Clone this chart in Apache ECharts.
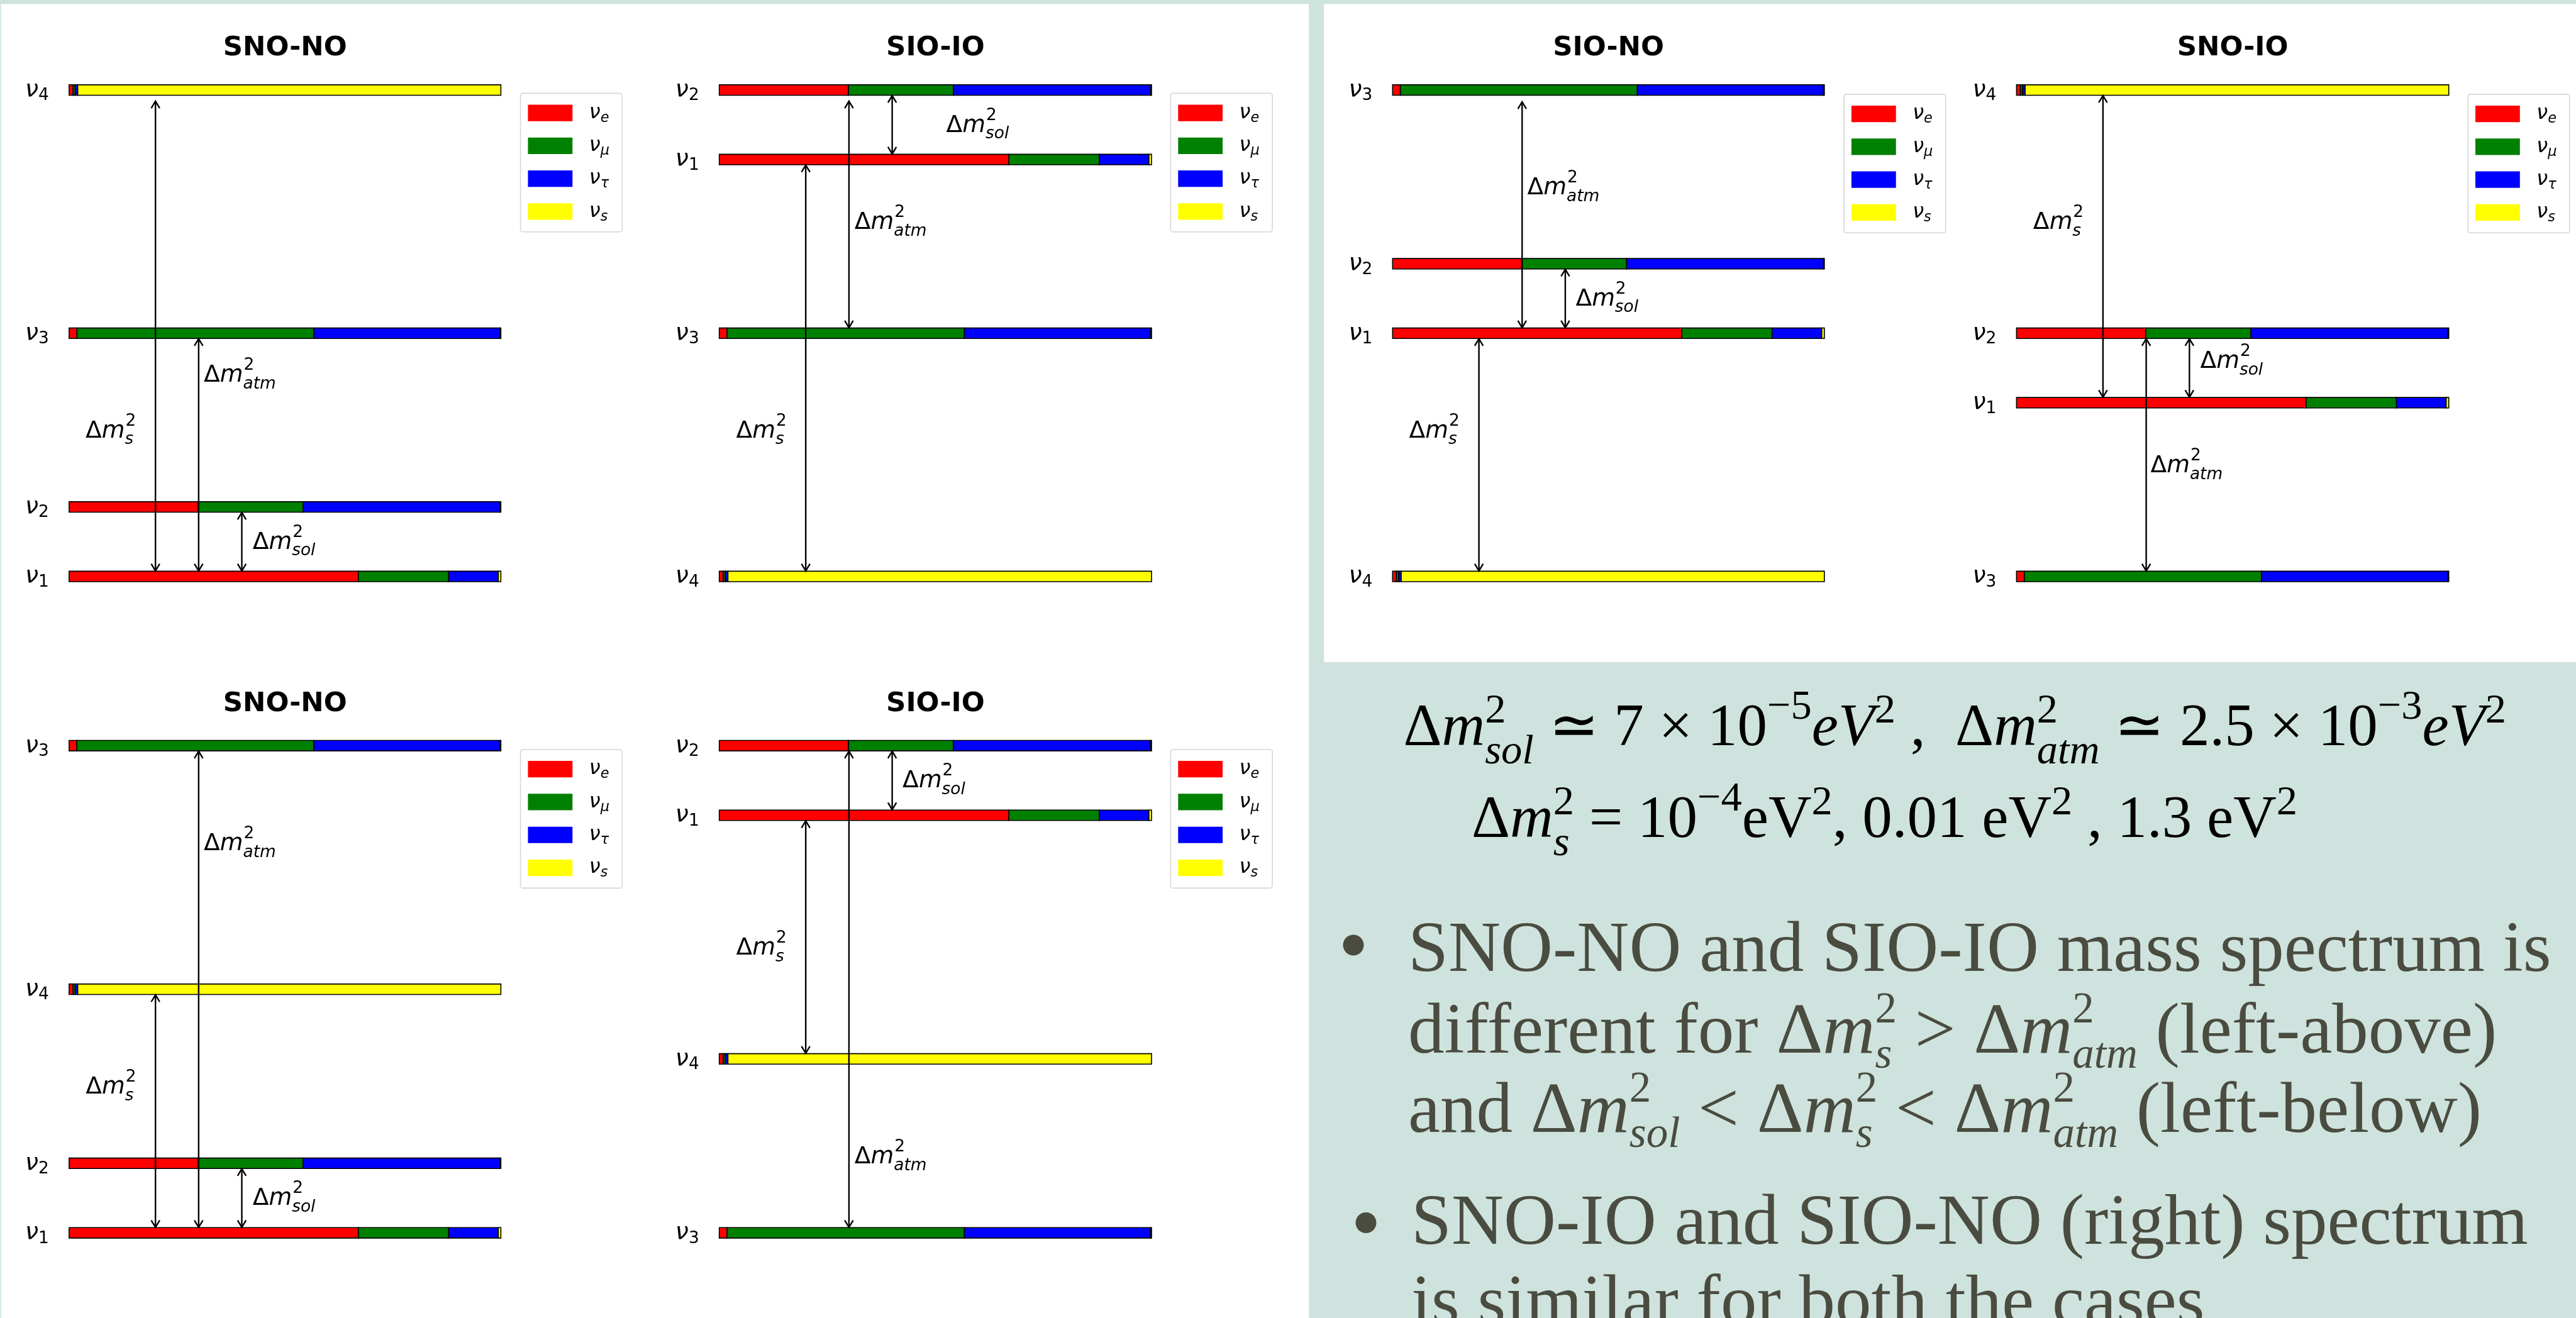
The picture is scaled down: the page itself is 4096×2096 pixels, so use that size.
<!DOCTYPE html>
<html><head><meta charset="utf-8">
<script src="https://cdn.jsdelivr.net/npm/echarts@6.0.0/dist/echarts.min.js"></script>
<style>html,body{margin:0;padding:0;background:#cfe3de;} #c{width:4096px;height:2096px;}</style>
</head><body><div id="c"></div>
<script>
// ---------------- data ----------------
const flavourNames = ['νe', 'νμ', 'ντ', 'νs'];
const flavourColors = ['#ff0000', '#008000', '#0000ff', '#ffff00'];
const massStates = ['ν1', 'ν2', 'ν3', 'ν4'];
// flavour content |U_αi|^2 of each mass state, order (e, μ, τ, s)
const mixNu1 = [0.670, 0.209, 0.115, 0.006];
const mixNu2 = [0.299, 0.243, 0.456, 0.002];
const mixNu3 = [0.018, 0.549, 0.431, 0.002];
const mixNu4 = [0.009, 0.005, 0.006, 0.980];
const panelTitles = ['SNO-NO', 'SIO-IO', 'SIO-NO', 'SNO-IO', 'SNO-NO', 'SIO-IO'];
// schematic level of ν1, ν2, ν3, ν4 in each panel
const levelsP1 = [0, 1, 3.5, 7];
const levelsP2 = [6, 7, 3.5, 0];
const levelsP3 = [3.5, 4.5, 7, 0];
const levelsP4 = [2.5, 3.5, 0, 7];
const levelsP5 = [0, 1, 7, 3.5];
const levelsP6 = [6, 7, 0, 2.5];
// double arrows: [x, lower end, upper end]
const arrowsP1 = [[0.2, 0.08, 6.84], [0.3, 0.08, 3.42], [0.4, 0.08, 0.92]];
const arrowsP2 = [[0.2, 0.08, 5.92], [0.3, 3.58, 6.84], [0.4, 6.08, 6.92]];
const arrowsP3 = [[0.2, 0.08, 3.42], [0.3, 3.58, 6.83], [0.4, 3.58, 4.42]];
const arrowsP4 = [[0.2, 2.58, 6.92], [0.3, 0.08, 3.42], [0.4, 2.58, 3.42]];
const arrowsP5 = [[0.2, 0.08, 3.42], [0.3, 0.08, 6.92], [0.4, 0.08, 0.92]];
const arrowsP6 = [[0.2, 2.58, 5.92], [0.3, 0.08, 6.92], [0.4, 6.08, 6.92]];
// Δm² annotations: [x, baseline y, subscript]
const labelsP1 = [[0.038, 2.0, 's'], [0.312, 2.8, 'atm'], [0.425, 0.4, 'sol']];
const labelsP2 = [[0.039, 2.0, 's'], [0.313, 5.0, 'atm'], [0.525, 6.4, 'sol']];
const labelsP3 = [[0.038, 2.0, 's'], [0.312, 5.5, 'atm'], [0.424, 3.9, 'sol']];
const labelsP4 = [[0.0385, 5.0, 's'], [0.31, 1.5, 'atm'], [0.425, 3.0, 'sol']];
const labelsP5 = [[0.0385, 2.0, 's'], [0.312, 5.5, 'atm'], [0.425, 0.4, 'sol']];
const labelsP6 = [[0.039, 4.0, 's'], [0.313, 1.0, 'atm'], [0.424, 6.4, 'sol']];

// ---------------- layout / style ----------------
const GRIDS = [
  {left: 109.9, top: 143.2, width: 686.5, height: 773.5},
  {left: 1143.7, top: 143.2, width: 687.3, height: 773.5},
  {left: 2214.3, top: 143.2, width: 686.5, height: 773.5},
  {left: 3206.4, top: 143.2, width: 687.3, height: 773.5},
  {left: 109.9, top: 1185.8, width: 686.5, height: 774.8},
  {left: 1143.7, top: 1185.8, width: 687.3, height: 774.8}
];
const BAR_H = 16.6, HW = 6.7, HL = 11.2;
const SANS = '"DejaVu Sans"';
const SERIF = '"Liberation Serif"';
const TEXT_COL = '#4a4c40';

const panelLevels = [levelsP1, levelsP2, levelsP3, levelsP4, levelsP5, levelsP6];
const panelArrows = [arrowsP1, arrowsP2, arrowsP3, arrowsP4, arrowsP5, arrowsP6];
const panelLabels = [labelsP1, labelsP2, labelsP3, labelsP4, labelsP5, labelsP6];
const mixes = [mixNu1, mixNu2, mixNu3, mixNu4];

function renderBar(params, api) {
  const y = api.value(0), a = api.value(1), b = api.value(2);
  const p0 = api.coord([a, y]), p1 = api.coord([b, y]);
  return {type: 'rect', shape: {x: p0[0], y: p0[1] - BAR_H / 2, width: p1[0] - p0[0], height: BAR_H},
    style: {fill: api.visual('color'), stroke: '#000', lineWidth: 1.6}};
}
function renderArrow(params, api) {
  const x = api.value(0);
  const lo = api.coord([x, api.value(1)]), hi = api.coord([x, api.value(2)]);
  const st = {stroke: '#000', lineWidth: 2.4, fill: 'none'};
  return {type: 'group', children: [
    {type: 'line', shape: {x1: lo[0], y1: lo[1], x2: hi[0], y2: hi[1]}, style: st},
    {type: 'polyline', shape: {points: [[hi[0] - HW, hi[1] + HL], [hi[0], hi[1]], [hi[0] + HW, hi[1] + HL]]}, style: st},
    {type: 'polyline', shape: {points: [[lo[0] - HW, lo[1] - HL], [lo[0], lo[1]], [lo[0] + HW, lo[1] - HL]]}, style: st}
  ]};
}

const series = [];
panelLevels.forEach((lev, g) => {
  flavourNames.forEach((fname, f) => {
    const data = mixes.map((mix, i) => {
      const start = mix.slice(0, f).reduce((s, v) => s + v, 0);
      return [lev[i], start, start + mix[f]];
    });
    series.push({type: 'custom', name: fname, xAxisIndex: g, yAxisIndex: g, itemStyle: {color: flavourColors[f]},
      data, renderItem: renderBar, encode: {x: [1, 2], y: 0}, z: 2, silent: true});
  });
  series.push({type: 'custom', name: 'arrows' + g, xAxisIndex: g, yAxisIndex: g, data: panelArrows[g],
    renderItem: renderArrow, encode: {x: 0, y: [1, 2]}, z: 5, silent: true});
});

const legendTop = [148.4, 148.4, 149.9, 149.9, 1192, 1192];
const legends = GRIDS.map((gr, g) => ({
  orient: 'vertical', left: gr.left + 717.7, top: legendTop[g],
  itemWidth: 70.8, itemHeight: 26.2, itemGap: 13.6, icon: 'rect',
  padding: [11.8, 18, 13, 11.9], backgroundColor: '#fff', borderColor: '#d6d6d6', borderWidth: 1.6, borderRadius: 4,
  selectedMode: false, data: flavourNames, itemStyle: {borderWidth: 0},
  formatter: n => '{sp| }{n|ν}{s|' + n.slice(1) + '}',
  textStyle: {width: 56, lineHeight: 26, color: '#000', rich: {
    sp: {width: 21.5, lineHeight: 26, fontSize: 10},
    n: {fontFamily: SANS, fontStyle: 'italic', fontSize: 32, lineHeight: 26, color: '#000'},
    s: {fontFamily: SANS, fontStyle: 'italic', fontSize: 22.4, lineHeight: 26, color: '#000', padding: [16.7, 0, 0, 0]}
  }}
}));

const option = {
  backgroundColor: '#cfe3de',
  animation: false,
  grid: GRIDS.map(gr => Object.assign({containLabel: false, outerBoundsMode: 'none'}, gr)),
  xAxis: GRIDS.map((_, g) => ({type: 'value', gridIndex: g, min: 0, max: 1, show: false})),
  yAxis: GRIDS.map((_, g) => ({
    type: 'value', gridIndex: g, min: 0, max: 7, interval: 0.5,
    axisLine: {show: false}, axisTick: {show: false}, splitLine: {show: false},
    axisLabel: {
      margin: 32, showMinLabel: true, showMaxLabel: true, hideOverlap: false,
      formatter: v => {
        const i = panelLevels[g].indexOf(v);
        return i < 0 ? '' : '{n|ν}{d|' + massStates[i].slice(1) + '}';
      },
      rich: {
        n: {fontFamily: SANS, fontStyle: 'italic', fontSize: 37.7, lineHeight: 38, color: '#000'},
        d: {fontFamily: SANS, fontSize: 26.4, lineHeight: 38, color: '#000', padding: [18.8, 0, 0, 0]}
      }
    }
  })),
  legend: legends,
  series
};

const chart = echarts.init(document.getElementById('c'), null, {renderer: 'canvas', width: 4096, height: 2096});
chart.setOption(option);

// ---------------- text helpers ----------------
const mctx = document.createElement('canvas').getContext('2d');
const offCache = {};
function F(size, fam, it, bold) { return (it ? 'italic ' : '') + (bold ? 'bold ' : '') + size + 'px ' + fam; }
function W(t, f) { mctx.font = f; return mctx.measureText(t).width; }
function midOff(f) {
  if (offCache[f] === undefined) {
    mctx.font = f; mctx.textBaseline = 'middle';
    offCache[f] = mctx.measureText('H').actualBoundingBoxDescent;
    mctx.textBaseline = 'alphabetic';
  }
  return offCache[f];
}
function T(t, x, yb, f, col, align) {
  return {type: 'text', x: x, y: yb - midOff(f), z: 60, silent: true,
    style: {text: t, font: f, fill: col, align: align || 'left', verticalAlign: 'middle',
      textAlign: align || 'left', textVerticalAlign: 'middle'}};
}
function run(x0, yb, toks, cfg) {
  let x = x0; const els = [];
  const fam = cfg.family, sz = cfg.size, ss = sz * cfg.scale;
  toks.forEach(tk => {
    if (typeof tk === 'string') {
      const f = F(sz, fam, false, cfg.bold); els.push(T(tk, x, yb, f, cfg.color)); x += W(tk, f);
    } else if (tk.i !== undefined) {
      const f = F(sz, fam, true, cfg.bold); els.push(T(tk.i, x, yb, f, cfg.color)); x += W(tk.i, f);
    } else {
      let w = 0;
      if (tk.sup !== undefined) {
        const f = F(ss, fam, !!tk.supIt, false);
        els.push(T(tk.sup, x + (cfg.supDx || 0), yb + (tk.dy !== undefined ? tk.dy : cfg.supDy), f, cfg.color));
        w = Math.max(w, W(tk.sup, f) + (cfg.supDx || 0));
      }
      if (tk.sub !== undefined) {
        const f = F(ss, fam, true, false);
        els.push(T(tk.sub, x, yb + cfg.subDy, f, cfg.color));
        w = Math.max(w, W(tk.sub, f));
      }
      x += w + (cfg.after || 0);
    }
  });
  return els;
}

const els = [];
// white panels
els.push({type: 'rect', z: -10, silent: true, shape: {x: 1.6, y: 6.5, width: 2079.6, height: 2096}, style: {fill: '#fff'}});
els.push({type: 'rect', z: -10, silent: true, shape: {x: 2105.3, y: 6.5, width: 1990.7, height: 1046.5}, style: {fill: '#fff'}});

const panelCfg = {family: SANS, size: 37.7, scale: 0.7, supDy: -19, subDy: 10.7, color: '#000', supDx: 1};
GRIDS.forEach((gr, g) => {
  const c = chart.convertToPixel({gridIndex: g}, [0.5, 7]);
  els.push(T(panelTitles[g], c[0], c[1] - 55.1, F(43.5, SANS, false, true), '#000', 'center'));
  panelLabels[g].forEach(lb => {
    const p = chart.convertToPixel({gridIndex: g}, [lb[0], lb[1]]);
    run(p[0], p[1], ['Δ', {i: 'm'}, {sup: '2', sub: lb[2]}], panelCfg).forEach(e => els.push(e));
  });
});

// equations
const eqCfg = {family: SERIF, size: 95, scale: 0.7, supDy: -36, subDy: 29, color: '#000', after: 0};
const eqLine1 = ['Δ', {i: 'm'}, {sup: '2', sub: 'sol'}, ' ≃ 7 × 10', {sup: '−5', dy: -42}, {i: 'eV'}, {sup: '2'}, ' ,  ',
  'Δ', {i: 'm'}, {sup: '2', sub: 'atm'}, ' ≃ 2.5 × 10', {sup: '−3', dy: -42}, {i: 'eV'}, {sup: '2'}];
const eqLine2 = ['Δ', {i: 'm'}, {sup: '2', sub: 's'}, ' = 10', {sup: '−4', dy: -42}, 'eV', {sup: '2'}, ', 0.01 eV', {sup: '2'},
  ' , 1.3 eV', {sup: '2'}];
run(2231.5, 1184.6, eqLine1, eqCfg).forEach(e => els.push(e));
run(2340, 1331.3, eqLine2, eqCfg).forEach(e => els.push(e));

// bullets
const bCfg = {family: SERIF, size: 115, scale: 0.6, supDy: -48, subDy: 24, color: TEXT_COL, after: 0};
const bullet1 = [
  ['SNO-NO and SIO-IO mass spectrum is'],
  ['different for ', 'Δ', {i: 'm'}, {sup: '2', sub: 's'}, ' > ', 'Δ', {i: 'm'}, {sup: '2', sub: 'atm'}, ' (left-above)'],
  ['and ', 'Δ', {i: 'm'}, {sup: '2', sub: 'sol'}, ' < ', 'Δ', {i: 'm'}, {sup: '2', sub: 's'}, ' < ', 'Δ', {i: 'm'}, {sup: '2', sub: 'atm'}, ' (left-below)']
];
const bullet2 = [['SNO-IO and SIO-NO (right) spectrum'], ['is similar for both the cases']];
[1544, 1673.5, 1800].forEach((y, k) => run(2239, y, bullet1[k], bCfg).forEach(e => els.push(e)));
[1978, 2106].forEach((y, k) => run(2244, y, bullet2[k], bCfg).forEach(e => els.push(e)));
els.push({type: 'circle', z: 60, silent: true, shape: {cx: 2152, cy: 1503, r: 16.5}, style: {fill: TEXT_COL}});
els.push({type: 'circle', z: 60, silent: true, shape: {cx: 2172, cy: 1944.5, r: 16.5}, style: {fill: TEXT_COL}});

chart.setOption({graphic: {elements: els}});
</script>
</body></html>
